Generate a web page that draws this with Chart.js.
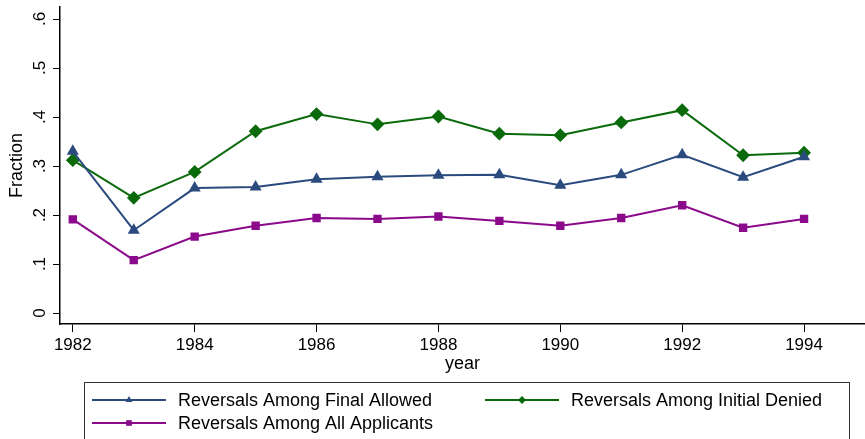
<!DOCTYPE html>
<html>
<head>
<meta charset="utf-8">
<script src="https://cdn.jsdelivr.net/npm/chart.js@4"></script>
<style>
  body { margin: 0; background: #fff; }
  #wrap { width: 865px; height: 439px; position: relative; }
</style>
</head>
<body>
<div id="wrap"><canvas id="myChart" width="865" height="439"></canvas></div>
<script>
var years = [1982, 1983, 1984, 1985, 1986, 1987, 1988, 1989, 1990, 1991, 1992, 1993, 1994];
var finalAllowed  = [0.330, 0.169, 0.255, 0.257, 0.273, 0.278, 0.281, 0.282, 0.261, 0.282, 0.323, 0.277, 0.319];
var initialDenied = [0.312, 0.235, 0.288, 0.371, 0.406, 0.385, 0.401, 0.366, 0.363, 0.389, 0.414, 0.322, 0.327];
var allApplicants = [0.191, 0.108, 0.156, 0.178, 0.194, 0.192, 0.197, 0.188, 0.178, 0.194, 0.220, 0.174, 0.192];
var xTicks = [1982, 1984, 1986, 1988, 1990, 1992, 1994];
var yTicks = [0, 0.1, 0.2, 0.3, 0.4, 0.5, 0.6];
var yTickLabels = ['0', '.1', '.2', '.3', '.4', '.5', '.6'];

var FONT = '"Liberation Sans", Arial, sans-serif';

function pts(vals) {
  return years.map(function(y, i) { return {x: y, y: vals[i]}; });
}

// rotated y tick labels + legend box, drawn on the canvas
var stataBits = {
  id: 'stataBits',
  afterDraw: function(chart) {
    var ctx = chart.ctx;
    var ys = chart.scales.y;
    ctx.save();
    ctx.fillStyle = '#000';
    ctx.font = '17px ' + FONT;
    ctx.textAlign = 'center';
    ctx.textBaseline = 'middle';
    yTicks.forEach(function(v, i) {
      var py = ys.getPixelForValue(v);
      ctx.save();
      ctx.translate(40, py);
      ctx.rotate(-Math.PI / 2);
      ctx.fillText(yTickLabels[i], 0, 0);
      ctx.restore();
    });

    // legend
    ctx.font = '18px ' + FONT;
    ctx.strokeStyle = '#333';
    ctx.lineWidth = 1;
    ctx.strokeRect(84.5, 382.5, 765, 70);
    var items = [
      {ds: 0, x: 92, y: 400},
      {ds: 1, x: 485, y: 400},
      {ds: 2, x: 92, y: 423}
    ];
    items.forEach(function(it) {
      var d = chart.data.datasets[it.ds];
      ctx.strokeStyle = d.borderColor;
      ctx.lineWidth = 2;
      ctx.beginPath();
      ctx.moveTo(it.x, it.y);
      ctx.lineTo(it.x + 74, it.y);
      ctx.stroke();
      ctx.fillStyle = d.borderColor;
      Chart.helpers.drawPoint(ctx, {pointStyle: d.pointStyle, radius: 4, borderWidth: 0}, it.x + 37, it.y);
      ctx.fillStyle = '#000';
      ctx.textAlign = 'left';
      ctx.fillText(d.label, it.x + 86, it.y + 1);
    });
    ctx.restore();
  }
};

var ctx = document.getElementById('myChart');
var myChart = new Chart(ctx, {
  type: 'line',
  data: {
    datasets: [
      {
        label: 'Reversals Among Final Allowed',
        data: pts(finalAllowed),
        borderColor: '#2b4b7e',
        backgroundColor: '#2b4b7e',
        pointStyle: 'triangle',
        pointRadius: 5,
        borderWidth: 2
      },
      {
        label: 'Reversals Among Initial Denied',
        data: pts(initialDenied),
        borderColor: '#0b6a0b',
        backgroundColor: '#0b6a0b',
        pointStyle: 'rectRot',
        pointRadius: 5.5,
        borderWidth: 2
      },
      {
        label: 'Reversals Among All Applicants',
        data: pts(allApplicants),
        borderColor: '#8b0a8b',
        backgroundColor: '#8b0a8b',
        pointStyle: 'rect',
        pointRadius: 4.5,
        borderWidth: 2
      }
    ]
  },
  options: {
    responsive: false,
    animation: false,
    layout: { autoPadding: false, padding: { top: 7, right: 0, bottom: 63, left: 0 } },
    plugins: { legend: { display: false }, tooltip: { enabled: false } },
    elements: { line: { tension: 0 }, point: { borderWidth: 0 } },
    scales: {
      x: {
        type: 'linear',
        min: 1981.79,
        max: 1995.0,
        afterBuildTicks: function(s) { s.ticks = xTicks.map(function(v) { return {value: v}; }); },
        afterFit: function(s) { s.height = 52; s.paddingRight = 0; s.paddingLeft = 0; },
        grid: { display: true, drawOnChartArea: false, drawTicks: true, tickLength: 8, tickColor: '#000' },
        border: { display: true, color: '#000', width: 1.5 },
        ticks: { color: '#000', font: { family: FONT, size: 17 }, padding: 3, maxRotation: 0,
                 callback: function(v) { return String(v); } },
        title: { display: true, text: 'year', color: '#000', font: { family: FONT, size: 18 }, padding: { top: 0, bottom: 1 } }
      },
      y: {
        type: 'linear',
        min: -0.0224,
        max: 0.6245,
        afterBuildTicks: function(s) { s.ticks = yTicks.map(function(v) { return {value: v}; }); },
        afterFit: function(s) { s.width = 60; },
        grid: { display: true, drawOnChartArea: false, drawTicks: true, tickLength: 7, tickColor: '#000' },
        border: { display: true, color: '#000', width: 1.5 },
        ticks: { display: false },
        title: { display: true, text: 'Fraction', color: '#000', font: { family: FONT, size: 18 }, padding: { top: 6, bottom: 0 } }
      }
    }
  },
  plugins: [stataBits]
});
</script>
</body>
</html>
